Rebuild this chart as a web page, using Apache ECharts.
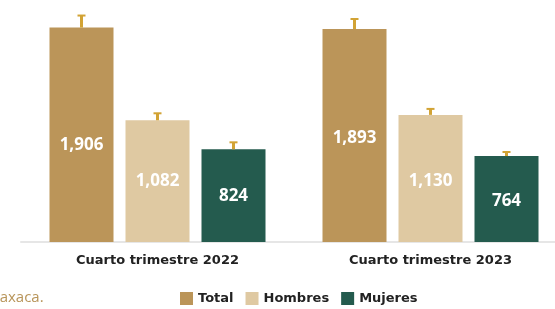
<!DOCTYPE html>
<html>
<head>
<meta charset="utf-8">
<script src="https://cdn.jsdelivr.net/npm/echarts@6/dist/echarts.min.js"></script>
<style>
html,body{margin:0;padding:0;background:#fff;}
#chart{width:555px;height:309px;}
</style>
</head>
<body>
<div id="chart"></div>
<script>
// datos
var categorias = ['Cuarto trimestre 2022', 'Cuarto trimestre 2023'];
var total = [1906, 1893];
var hombres = [1082, 1130];
var mujeres = [824, 764];
// margen de error
var errTotal = [107, 89];
var errHombres = [62, 53];
var errMujeres = [62, 36];

var colores = ['#bb9559', '#dfc9a2', '#245b4e'];
var anchoBarra = 64;
var separacion = 12;

var datosError = [];
[[total, errTotal], [hombres, errHombres], [mujeres, errMujeres]].forEach(function (par, s) {
    for (var i = 0; i < categorias.length; i++) {
        datosError.push([i, s, par[0][i], par[1][i]]);
    }
});

function barra(nombre, datos, color, desplaza) {
    return {
        name: nombre,
        type: 'bar',
        data: datos.map(function (v, i) {
            return {value: v, label: {offset: [0, desplaza[i]]}};
        }),
        barWidth: anchoBarra,
        barGap: (separacion / anchoBarra * 100) + '%',
        itemStyle: {color: color},
        label: {
            show: true,
            position: 'inside',
            color: '#fff',
            fontFamily: 'Open Sans',
            fontWeight: 'bold',
            fontSize: 17,
            formatter: function (p) { return p.value.toLocaleString('en-US'); }
        }
    };
}

var grafica = echarts.init(document.getElementById('chart'));
var option = {
    animation: false,
    grid: {left: 21, right: -12, top: 17, bottom: 67, outerBoundsMode: 'none', containLabel: false},
    legend: {
        data: ['Total', 'Hombres', 'Mujeres'],
        top: 287,
        left: 175,
        icon: 'rect',
        itemWidth: 13,
        itemHeight: 13,
        itemGap: 12,
        textStyle: {color: '#222', fontFamily: 'DejaVu Sans', fontWeight: 'bold', fontSize: 13}
    },
    graphic: [{
        type: 'text',
        left: -12,
        top: 290,
        style: {text: 'Oaxaca.', fill: '#b8955a', font: '15px "Open Sans"'}
    }],
    xAxis: {
        type: 'category',
        data: categorias,
        axisLine: {lineStyle: {color: '#e6e6e6', width: 2}},
        axisTick: {show: false},
        axisLabel: {color: '#222', fontFamily: 'DejaVu Sans', fontWeight: 'bold', fontSize: 13, margin: 12}
    },
    yAxis: {
        type: 'value',
        min: 0,
        max: 2000,
        show: false,
        splitLine: {show: false}
    },
    series: [
        barra('Total', total, colores[0], [10, 3]),
        barra('Hombres', hombres, colores[1], [0, 3]),
        barra('Mujeres', mujeres, colores[2], [1, 2]),
        {
            type: 'custom',
            name: 'error',
            data: datosError,
            z: 5,
            renderItem: function (params, api) {
                var i = api.value(0), s = api.value(1);
                var v = api.value(2), e = api.value(3);
                var base = api.coord([i, v]);
                var arriba = api.coord([i, v + e]);
                var x = base[0] + (s - 1) * (anchoBarra + separacion);
                return {
                    type: 'group',
                    children: [{
                        type: 'line',
                        shape: {x1: x, y1: base[1], x2: x, y2: arriba[1]},
                        style: {stroke: '#d2a334', lineWidth: 3}
                    }, {
                        type: 'line',
                        shape: {x1: x - 4, y1: arriba[1], x2: x + 4, y2: arriba[1]},
                        style: {stroke: '#d2a334', lineWidth: 2}
                    }]
                };
            }
        }
    ]
};
grafica.setOption(option);
</script>
</body>
</html>
